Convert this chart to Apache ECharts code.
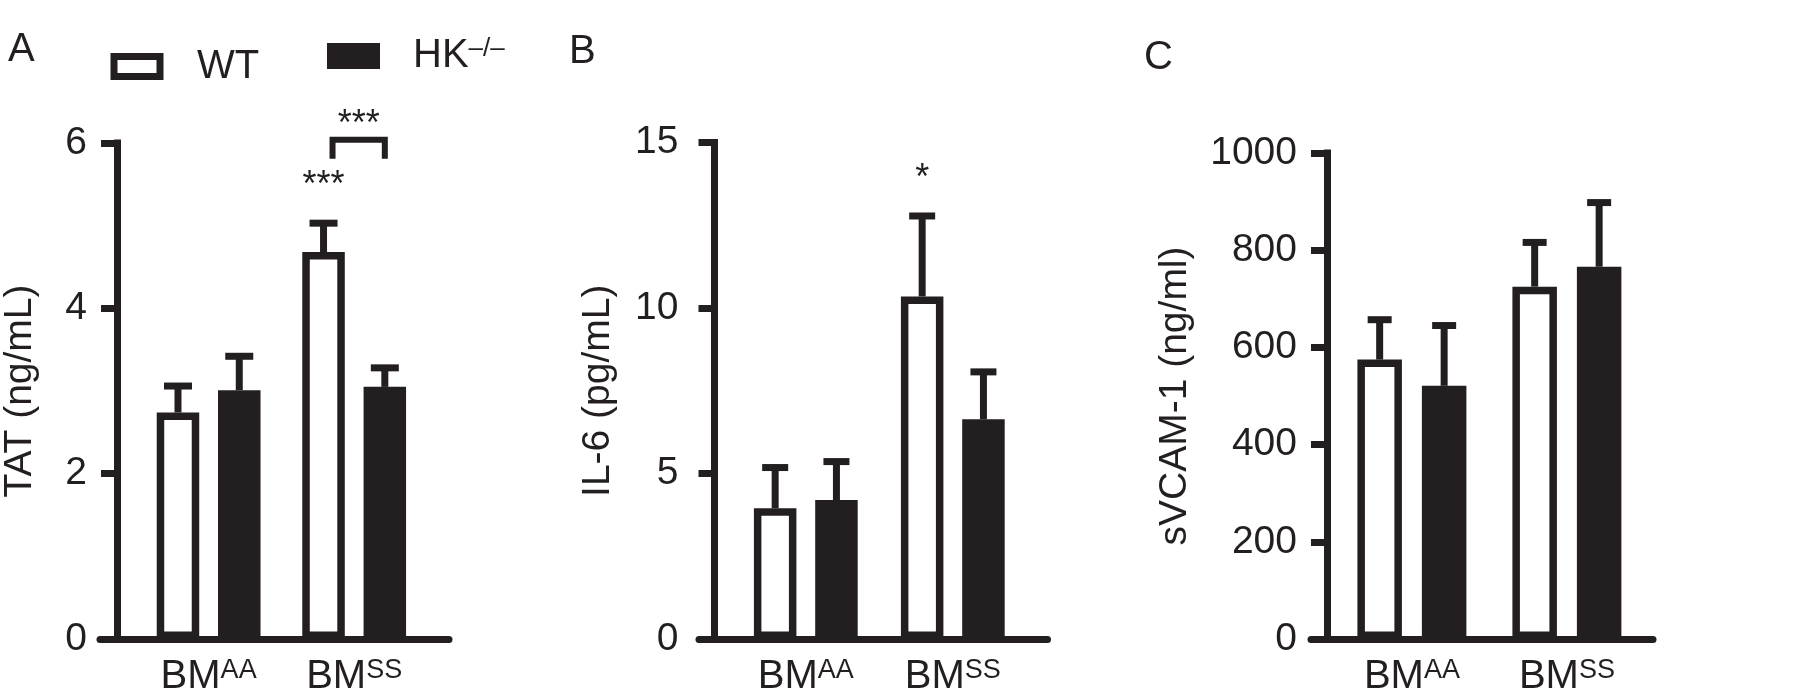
<!DOCTYPE html>
<html>
<head>
<meta charset="utf-8">
<title>TAT, IL-6 and sVCAM-1</title>
<script src="https://cdn.jsdelivr.net/npm/echarts@6/dist/echarts.min.js"></script>
<style>
  html, body { margin: 0; padding: 0; background: #fff; }
  #chart { width: 1800px; height: 697px; }
</style>
</head>
<body>
<div id="chart"></div>
<script>
// groups on the x axis, shown as BM with the genotype as superscript
const groups = ['AA', 'SS'];
const seriesNames = ['WT', 'HK–/–'];

// A: TAT (ng/mL)
const tatTicks = [0, 2, 4, 6];
const tatWT = [2.74, 4.68];
const tatWTErr = [0.32, 0.35];
const tatHK = [3.01, 3.05];
const tatHKErr = [0.41, 0.23];
const tatStars = ['', '***'];
const tatBracket = ['', '***'];
const tatBracketAt = [null, 6.04];

// B: IL-6 (pg/mL)
const il6Ticks = [0, 5, 10, 15];
const il6WT = [3.95, 10.35];
const il6WTErr = [1.23, 2.43];
const il6HK = [4.2, 6.64];
const il6HKErr = [1.16, 1.43];
const il6Stars = ['', '*'];
const il6Bracket = ['', ''];
const il6BracketAt = [null, null];

// C: sVCAM-1 (ng/ml)
const vcamTicks = [0, 200, 400, 600, 800, 1000];
const vcamWT = [575, 725];
const vcamWTErr = [82, 91];
const vcamHK = [521, 766];
const vcamHKErr = [124, 132];
const vcamStars = ['', ''];
const vcamBracket = ['', ''];
const vcamBracketAt = [null, null];

const ink = '#231f20';
const font = '"Liberation Sans", Arial, Helvetica, sans-serif';

const panels = [
  {
    letter: 'A', name: 'TAT (ng/mL)', ticks: tatTicks,
    wt: tatWT, wtErr: tatWTErr, hk: tatHK, hkErr: tatHKErr,
    stars: tatStars, bracket: tatBracket, bracketAt: tatBracketAt,
    frameLeft: 100, frameWidth: 349, axisX: 115.5, gridLeft: 134.35, gridWidth: 292.6, top: 143,
    barWidth: 42.5, gapRatio: 0.442, capHalf: 14, labelMargin: 30, nameGap: 77,
    letterLeft: 8, letterTop: 30
  },
  {
    letter: 'B', name: 'IL-6 (pg/mL)', ticks: il6Ticks,
    wt: il6WT, wtErr: il6WTErr, hk: il6HK, hkErr: il6HKErr,
    stars: il6Stars, bracket: il6Bracket, bracketAt: il6BracketAt,
    frameLeft: 699, frameWidth: 348.5, axisX: 714.5, gridLeft: 732.3, gridWidth: 294, top: 142.5,
    barWidth: 42.5, gapRatio: 0.442, capHalf: 13, labelMargin: 36, nameGap: 97,
    letterLeft: 569, letterTop: 32
  },
  {
    letter: 'C', name: 'sVCAM-1 (ng/ml)', ticks: vcamTicks,
    wt: vcamWT, wtErr: vcamWTErr, hk: vcamHK, hkErr: vcamHKErr,
    stars: vcamStars, bracket: vcamBracket, bracketAt: vcamBracketAt,
    frameLeft: 1311, frameWidth: 342, axisX: 1327, gridLeft: 1334.4, gridWidth: 310, top: 153,
    barWidth: 44.5, gapRatio: 0.449, capHalf: 12, labelMargin: 30, nameGap: 132,
    letterLeft: 1144, letterTop: 38
  }
];

const bottomY = 639;
const chart = echarts.init(document.getElementById('chart'));

const option = {
  animation: false,
  backgroundColor: '#fff',
  textStyle: { fontFamily: font, color: ink },
  title: [],
  grid: [],
  xAxis: [],
  yAxis: [],
  series: [],
  legend: [
    {
      data: [seriesNames[0]], left: 110.5, top: 46.5, padding: 0,
      icon: 'rect', itemWidth: 46, itemHeight: 20, selectedMode: false,
      itemStyle: { color: '#fff', borderColor: ink, borderWidth: 7 },
      formatter: '{t|WT}',
      textStyle: { rich: { t: { fontSize: 40, color: ink, fontFamily: font, padding: [0, 0, 0, 32] } } }
    },
    {
      data: [seriesNames[1]], left: 327, top: 36, padding: 0,
      icon: 'rect', itemWidth: 53, itemHeight: 26, selectedMode: false,
      itemStyle: { color: ink, borderWidth: 0 },
      formatter: '{t|HK}{s|–/–}',
      textStyle: {
        rich: {
          t: { fontSize: 40, color: ink, fontFamily: font, padding: [0, 0, 0, 28] },
          s: { fontSize: 26, color: ink, fontFamily: font, verticalAlign: 'top' }
        }
      }
    }
  ]
};

panels.forEach((p, i) => {
  const frame = 2 * i;
  const plot = 2 * i + 1;
  const height = bottomY - p.top;
  const yMin = p.ticks[0];
  const yMax = p.ticks[p.ticks.length - 1];
  const step = p.ticks[1] - p.ticks[0];
  const pairOffset = (p.barWidth + p.barWidth * p.gapRatio) / 2;

  option.title.push({
    text: p.letter, left: p.letterLeft, top: p.letterTop, padding: 0,
    textStyle: { fontSize: 40, fontWeight: 'normal', color: ink, fontFamily: font }
  });

  // frame grid only carries the long x axis line
  option.grid.push({ left: p.frameLeft, top: p.top, width: p.frameWidth, height: height });
  // plot grid carries the bars, categories and the y axis
  option.grid.push({ left: p.gridLeft, top: p.top, width: p.gridWidth, height: height });

  option.xAxis.push({
    gridIndex: frame, type: 'value', min: 0, max: 1, z: 10,
    axisLine: { show: true, onZero: false, lineStyle: { color: ink, width: 7 } },
    axisTick: { show: false }, axisLabel: { show: false }, splitLine: { show: false }
  });
  option.xAxis.push({
    gridIndex: plot, type: 'category', data: groups,
    axisLine: { show: false }, axisTick: { show: false },
    axisLabel: {
      margin: 18, interval: 0,
      formatter: v => '{b|BM}{s|' + v + '}',
      rich: {
        b: { fontSize: 40, color: ink, fontFamily: font },
        s: { fontSize: 27, color: ink, fontFamily: font, verticalAlign: 'top' }
      }
    }
  });

  option.yAxis.push({ gridIndex: frame, type: 'value', min: yMin, max: yMax, show: false });
  option.yAxis.push({
    gridIndex: plot, type: 'value', min: yMin, max: yMax, interval: step,
    offset: p.gridLeft - p.axisX,
    name: p.name, nameLocation: 'middle', nameGap: p.nameGap,
    nameTextStyle: { fontSize: 39, color: ink, fontFamily: font },
    axisLine: { show: true, onZero: false, lineStyle: { color: ink, width: 7, cap: 'square' } },
    axisTick: { show: true, length: 16, lineStyle: { color: ink, width: 7 } },
    axisLabel: { margin: p.labelMargin, fontSize: 39, color: ink, fontFamily: font, formatter: v => String(v) },
    splitLine: { show: false }
  });

  option.series.push({
    name: seriesNames[0], type: 'bar', xAxisIndex: plot, yAxisIndex: plot,
    data: p.wt, barWidth: p.barWidth, barGap: (p.gapRatio * 100) + '%',
    itemStyle: { color: '#fff', borderColor: ink, borderWidth: 7.5 }
  });
  option.series.push({
    name: seriesNames[1], type: 'bar', xAxisIndex: plot, yAxisIndex: plot,
    data: p.hk, barWidth: p.barWidth, barGap: (p.gapRatio * 100) + '%',
    itemStyle: { color: ink, borderColor: ink, borderWidth: 7.5 }
  });

  // error bars (upper only) plus significance stars over the WT bar
  const errData = [];
  groups.forEach((g, c) => {
    errData.push([c, p.wt[c], p.wtErr[c], 0]);
    errData.push([c, p.hk[c], p.hkErr[c], 1]);
  });
  option.series.push({
    type: 'custom', xAxisIndex: plot, yAxisIndex: plot, z: 4,
    data: errData,
    renderItem: (params, api) => {
      const c = api.value(0), mean = api.value(1), err = api.value(2), which = api.value(3);
      const base = api.coord([c, mean]);
      const top = api.coord([c, mean + err]);
      const x = base[0] + (which === 0 ? -pairOffset : pairOffset);
      const children = [
        { type: 'line', shape: { x1: x, y1: base[1], x2: x, y2: top[1] }, style: { stroke: ink, lineWidth: 7 } },
        { type: 'line', shape: { x1: x - p.capHalf, y1: top[1], x2: x + p.capHalf, y2: top[1] }, style: { stroke: ink, lineWidth: 7 } }
      ];
      if (which === 0 && p.stars[c]) {
        children.push({
          type: 'text', x: x, y: top[1] - 37,
          style: { text: p.stars[c], fill: ink, fontSize: 36, fontFamily: font, align: 'center', verticalAlign: 'middle' }
        });
      }
      return { type: 'group', children: children };
    }
  });

  // bracket between WT and HK–/– of the same group
  const brData = [];
  groups.forEach((g, c) => {
    if (p.bracket[c]) brData.push([c, p.bracketAt[c]]);
  });
  if (brData.length) {
    option.series.push({
      type: 'custom', xAxisIndex: plot, yAxisIndex: plot, z: 4,
      data: brData,
      renderItem: (params, api) => {
        const c = api.value(0);
        const pt = api.coord([c, api.value(1)]);
        const x1 = pt[0] - pairOffset + 9;
        const x2 = pt[0] + pairOffset;
        return {
          type: 'group',
          children: [
            {
              type: 'polyline',
              shape: { points: [[x1, pt[1] + 19], [x1, pt[1]], [x2, pt[1]], [x2, pt[1] + 19]] },
              style: { stroke: ink, lineWidth: 6, fill: null }
            },
            {
              type: 'text', x: (x1 + x2) / 2, y: pt[1] - 15,
              style: { text: p.bracket[c], fill: ink, fontSize: 36, fontFamily: font, align: 'center', verticalAlign: 'middle' }
            }
          ]
        };
      }
    });
  }
});

chart.setOption(option);
</script>
</body>
</html>
